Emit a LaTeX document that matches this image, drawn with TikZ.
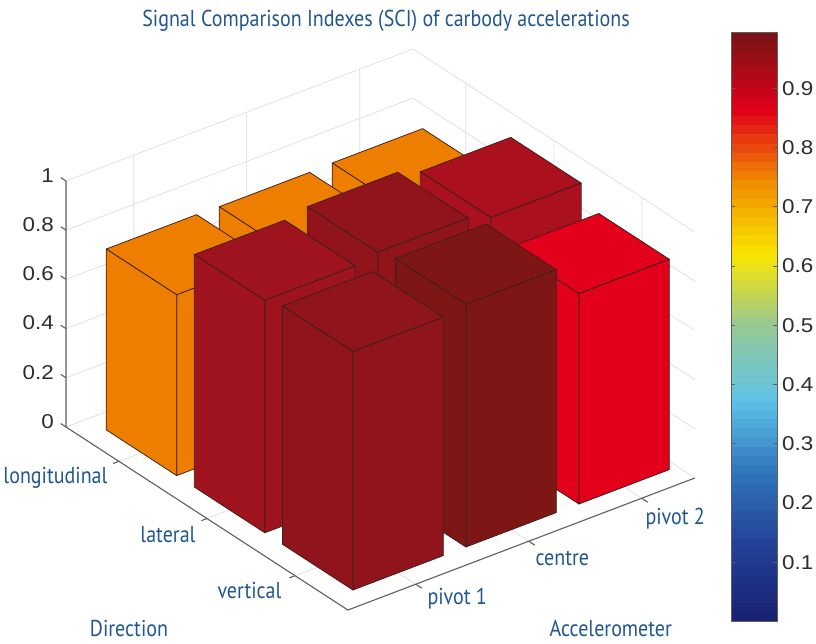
\documentclass[tikz,border=0pt]{standalone}
\usepackage{fontspec}
\newfontfamily\lblfont[FakeStretch=0.87]{PT Sans}
\newfontfamily\numfont[FakeStretch=1.12]{Liberation Sans}
\definecolor{lblblue}{RGB}{33,87,143}
\definecolor{gridc}{RGB}{222,222,222}
\definecolor{axisc}{RGB}{95,95,95}
\definecolor{edgec}{RGB}{60,32,26}
\definecolor{numc}{RGB}{45,45,45}
\definecolor{barorange}{RGB}{238,126,0}
\definecolor{cA}{RGB}{158,19,29}
\definecolor{cB}{RGB}{145,20,28}
\definecolor{cC}{RGB}{170,16,30}
\definecolor{cD}{RGB}{143,20,27}
\definecolor{cE}{RGB}{127,22,22}
\definecolor{cF}{RGB}{226,0,26}
% muted jet anchors
\definecolor{C0}{RGB}{25,35,115}
\definecolor{C1}{RGB}{35,65,150}
\definecolor{C2}{RGB}{48,118,188}
\definecolor{C3}{RGB}{95,195,232}
\definecolor{C4}{RGB}{150,200,150}
\definecolor{C5}{RGB}{250,230,0}
\definecolor{C6}{RGB}{240,140,0}
\definecolor{C7}{RGB}{225,0,25}
\definecolor{C8}{RGB}{125,18,22}
\tikzset{
  gridline/.style={draw=gridc, line width=0.7pt},
  axisline/.style={draw=axisc, line width=1.1pt},
  baredge/.style={draw=edgec, line width=0.75pt, line join=round},
  bluelbl/.style={text=lblblue, inner sep=0pt, font=\lblfont\fontsize{23}{26}\selectfont},
  numlbl/.style={text=numc, inner sep=0pt, font=\numfont\fontsize{20}{22}\selectfont},
}
\newcommand{\barbox}[4]{%
  \pgfmathsetmacro\bxa{#1-0.4}\pgfmathsetmacro\bxb{#1+0.4}%
  \pgfmathsetmacro\bya{#2-0.4}\pgfmathsetmacro\byb{#2+0.4}%
  \filldraw[baredge, fill=#4] (\bxa,\bya,#3) -- (\bxb,\bya,#3) -- (\bxb,\byb,#3) -- (\bxa,\byb,#3) -- cycle;
  \filldraw[baredge, fill=#4] (\bxa,\byb,0) -- (\bxb,\byb,0) -- (\bxb,\byb,#3) -- (\bxa,\byb,#3) -- cycle;
  \filldraw[baredge, fill=#4] (\bxa,\bya,0) -- (\bxa,\byb,0) -- (\bxa,\byb,#3) -- (\bxa,\bya,#3) -- cycle;
}
\begin{document}
\begin{tikzpicture}
\useasboundingbox (0,0) rectangle (816pt,644pt);
\fill[white] (0,0) rectangle (816pt,644pt);

% ---------- colour bar ----------
\foreach \i in {0,...,63} {
  \pgfmathsetmacro\bandp{\i/63*8}
  \pgfmathtruncatemacro\bandk{min(floor(\bandp),7)}
  \pgfmathtruncatemacro\bandn{\bandk+1}
  \pgfmathsetmacro\tpct{(\bandp-\bandk)*100}
  \pgfmathsetmacro\ylo{22.5+\i*9.192}
  \pgfmathsetmacro\yhi{22.5+(\i+1)*9.192+0.3}
  \colorlet{bandc}{C\bandn!\tpct!C\bandk}
  \fill[bandc] (731pt,\ylo pt) rectangle (777pt,\yhi pt);
}
\node[draw=axisc, line width=0.8pt, inner sep=0pt, minimum width=46pt, minimum height=588.3pt, anchor=south west] (cbar) at (731pt,22.5pt) {};
\foreach \v in {1,...,9} {
  \pgfmathsetmacro\yv{22.5+\v*59.25}
  \draw[axisc, line width=0.8pt] (731pt,\yv pt) -- (735pt,\yv pt);
  \draw[axisc, line width=0.8pt] (773pt,\yv pt) -- (777pt,\yv pt);
  \node[numlbl, anchor=west] (cb\v) at (782pt,\yv pt) {0.\v};
}

% ---------- 3D axes ----------
\begin{scope}[x={(113pt,43pt)}, y={(88.1pt,-57.2pt)}, z={(0pt,246pt)}, shift={(-14.44pt,222.68pt)}]
  \coordinate (o) at (0.4,0.4,0);
  \coordinate (front) at (0.4,3.6,0);
  \coordinate (right) at (3.47,3.6,0);
  \coordinate (back) at (3.47,0.4,0);
  \coordinate (ztop) at (0.4,0.4,1);

  % back walls and floor grid
  \foreach \zz in {0,0.2,0.4,0.6,0.8,1} {
    \draw[gridline] (0.4,0.4,\zz) -- (3.47,0.4,\zz) -- (3.47,3.6,\zz);
  }
  \foreach \xx in {1,2,3} {
    \draw[gridline] (\xx,3.6,0) -- (\xx,0.4,0) -- (\xx,0.4,1);
  }
  \foreach \yy in {1,2,3} {
    \draw[gridline] (0.4,\yy,0) -- (3.47,\yy,0) -- (3.47,\yy,1);
  }

  % axis lines
  \draw[axisline] (ztop) -- (o) -- (front) -- (right);
  \foreach \zz/\lab in {0/0,0.2/0.2,0.4/0.4,0.6/0.6,0.8/0.8,1/1} {
    \draw[axisline] (0.4,0.4,\zz) -- (0.4,0.34,\zz);
    \node[numlbl, anchor=east, xshift=-12pt, yshift=5.5pt] at (0.4,0.4,\zz) {\lab};
  }
  \foreach \yy in {1,2,3} {
    \draw[axisline] (0.4,\yy,0) -- (0.35,\yy,0);
  }
  \foreach \xx in {1,2,3} {
    \draw[axisline] (\xx,3.6,0) -- (\xx,3.67,0);
  }

  % bars, back to front
  \barbox{3}{1}{0.735}{barorange}
  \barbox{2}{1}{0.732}{barorange}
  \barbox{3}{2}{0.932}{cC}
  \barbox{1}{1}{0.735}{barorange}
  \barbox{2}{2}{0.965}{cB}
  \barbox{3}{3}{0.855}{cF}
  \barbox{1}{2}{0.945}{cA}
  \barbox{2}{3}{0.987}{cE}
  \barbox{1}{3}{0.969}{cD}
\end{scope}

% ---------- labels ----------
\node[bluelbl, anchor=base] (title) at (386pt,617.3pt) {Signal Comparison Indexes (SCI) of carbody accelerations};
\node[bluelbl, anchor=base] (dlong) at (55.5pt,160pt) {longitudinal};
\node[bluelbl, anchor=base] (dlat) at (168pt,101.3pt) {lateral};
\node[bluelbl, anchor=base] (dvert) at (249.5pt,45.3pt) {vertical};
\node[bluelbl, anchor=base] (dir) at (129pt,7pt) {Direction};
\node[bluelbl, anchor=base] (piv1) at (457.2pt,39.3pt) {pivot 1};
\node[bluelbl, anchor=base] (cent) at (562.3pt,78.7pt) {centre};
\node[bluelbl, anchor=base] (piv2) at (675.2pt,119.7pt) {pivot 2};
\node[bluelbl, anchor=base] (accel) at (610.8pt,7pt) {Accelerometer};
\end{tikzpicture}
\end{document}
